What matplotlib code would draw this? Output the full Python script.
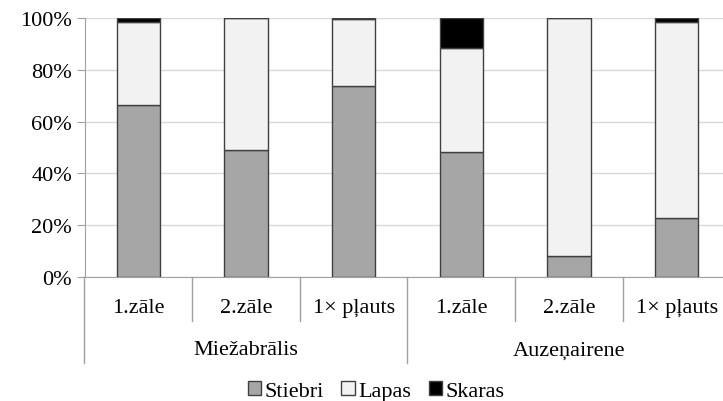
import matplotlib
matplotlib.use("Agg")
import matplotlib.pyplot as plt
import numpy as np
from matplotlib.patches import Patch

plt.rcParams['font.family'] = ['Liberation Serif', 'DejaVu Serif']

categories = ["1.zāle", "2.zāle", "1× pļauts", "1.zāle", "2.zāle", "1× pļauts"]
groups = ["Miežabrālis", "Auzeņairene"]
stiebri = [66.4, 49.2, 73.6, 48.1, 8.3, 22.7]
lapas = [31.9, 50.8, 26.0, 40.2, 91.7, 75.6]
skaras = [1.7, 0.0, 0.4, 11.7, 0.0, 1.7]

W, H = 723, 402
fig = plt.figure(figsize=(W / 100, H / 100), dpi=100)
x0, x1 = 84.5, 730.5
y0, y1 = 278, 19
ax = fig.add_axes([x0 / W, 1 - y0 / H, (x1 - x0) / W, (y0 - y1) / H])

x = np.arange(len(categories))
bw = 0.40
ec = '#404040'
ax.bar(x, stiebri, bw, color='#a6a6a6', edgecolor=ec, linewidth=1.0, label='Stiebri', zorder=3)
ax.bar(x, lapas, bw, bottom=stiebri, color='#f2f2f2', edgecolor=ec, linewidth=1.0, label='Lapas', zorder=3)
bot2 = np.array(stiebri) + np.array(lapas)
ax.bar(x, skaras, bw, bottom=bot2, color='#000000', edgecolor=ec, linewidth=1.0, label='Skaras', zorder=3)

fs = 16
ax.set_xlim(-0.5, len(categories) - 0.5)
ax.set_ylim(0, 100)
ax.set_yticks(np.arange(0, 101, 20))
ax.set_yticklabels([f"{v}%" for v in range(0, 101, 20)], fontsize=fs)
ax.yaxis.grid(True, color='#d9d9d9', linewidth=1.0, zorder=0)
ax.set_axisbelow(True)
for s in ['top', 'right']:
    ax.spines[s].set_visible(False)
ax.spines['left'].set_color('#a0a0a0')
ax.spines['bottom'].set_color('#a0a0a0')
ax.tick_params(axis='y', length=6, color='#a0a0a0', pad=3)
ax.set_xticks([])

trans = ax.get_xaxis_transform()
unit = (y0 - y1)
short = -(322 - y0) / unit
long_ = -(364 - y0) / unit
ax.plot([-0.5, -0.5], [0, long_], transform=trans, color='#a0a0a0', lw=1.0, clip_on=False)
for b in [0.5, 1.5, 3.5, 4.5]:
    ax.plot([b, b], [0, short], transform=trans, color='#a0a0a0', lw=1.0, clip_on=False)
for b in [2.5, 5.5]:
    ax.plot([b, b], [0, long_], transform=trans, color='#a0a0a0', lw=1.0, clip_on=False)

for i, c in enumerate(categories):
    ax.text(i, -(309 - y0) / unit, c, transform=trans, ha='center', va='center', fontsize=fs)
for g, gi in enumerate(groups):
    ax.text(1 + 3 * g, -(351 - y0) / unit, gi, transform=trans, ha='center', va='center', fontsize=fs)

handles = [Patch(facecolor='#a6a6a6', edgecolor=ec, label='Stiebri'),
           Patch(facecolor='#f2f2f2', edgecolor=ec, label='Lapas'),
           Patch(facecolor='#000000', edgecolor=ec, label='Skaras')]
fig.legend(handles=handles, loc='center', bbox_to_anchor=(376 / W, 1 - 392 / H), ncol=3,
           frameon=False, fontsize=fs, handlelength=0.6, handleheight=0.6,
           handletextpad=0.15, columnspacing=0.8, borderpad=0)

fig.savefig("out.png", dpi=100)
